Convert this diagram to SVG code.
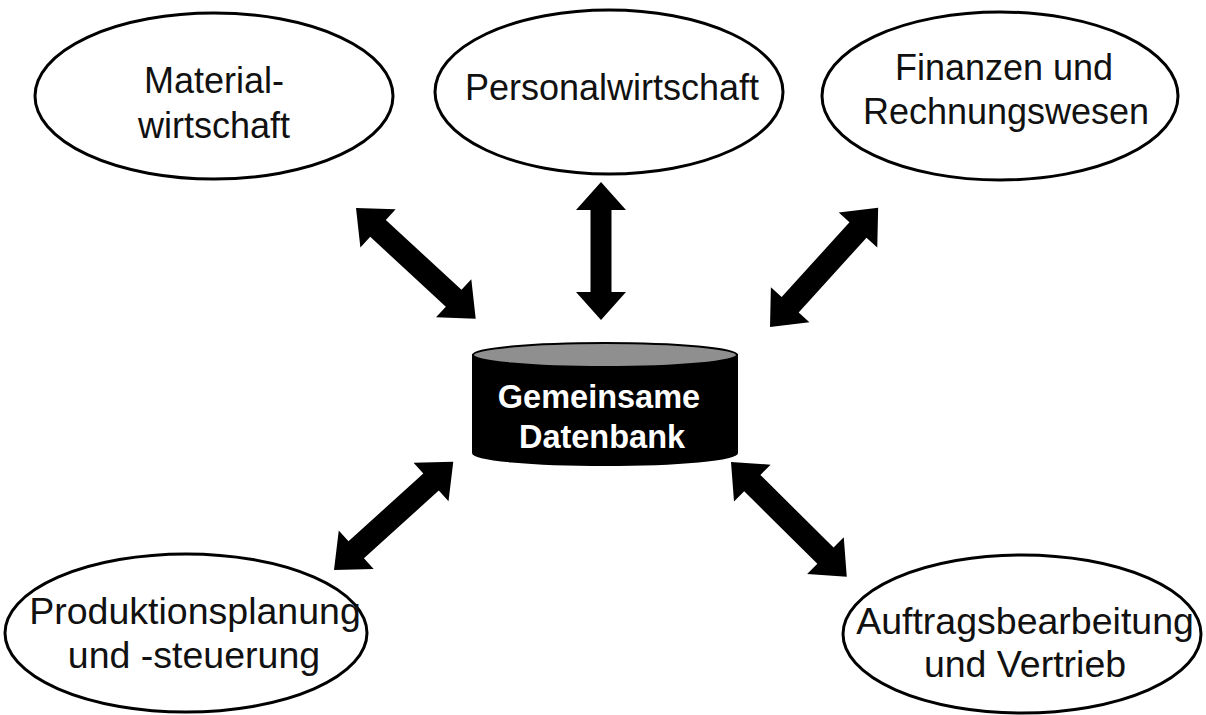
<svg xmlns="http://www.w3.org/2000/svg" width="1206" height="715" viewBox="0 0 1206 715">
<style>
.node ellipse{fill:#fff;stroke:#000;stroke-width:3}
.lbl{font-family:"Liberation Sans",Arial,sans-serif;font-size:36px;fill:#111;text-anchor:middle}
.lbl2{font-family:"Liberation Sans",Arial,sans-serif;font-size:37.5px;fill:#111;text-anchor:middle}
.db{font-family:"Liberation Sans",Arial,sans-serif;font-size:32.5px;font-weight:bold;fill:#fff;text-anchor:middle}
.arrow{fill:#000}
</style>
<rect width="1206" height="715" fill="#fff"/>
<g id="connectors">
<polygon class="arrow" transform="translate(356,208) rotate(42.75)" points="0,0 30,-26 30,-11.5 133,-11.5 133,-26 163,0 133,26 133,11.5 30,11.5 30,26"/>
<polygon class="arrow" transform="translate(601,182) rotate(90)" points="0,0 28,-25 28,-10.5 110,-10.5 110,-25 138,0 110,25 110,10.5 28,10.5 28,25"/>
<polygon class="arrow" transform="translate(770,327) rotate(-47.8)" points="0,0 30,-26 30,-11.5 131,-11.5 131,-26 161,0 131,26 131,11.5 30,11.5 30,26"/>
<polygon class="arrow" transform="translate(334,570) rotate(-42.2)" points="0,0 30,-26 30,-11.5 131,-11.5 131,-26 161,0 131,26 131,11.5 30,11.5 30,26"/>
<polygon class="arrow" transform="translate(731,462) rotate(44.75)" points="0,0 30,-26 30,-11.5 133,-11.5 133,-26 163,0 133,26 133,11.5 30,11.5 30,26"/>
</g>
<g id="material" class="node">
<ellipse cx="214" cy="96" rx="179" ry="83"/>
<text class="lbl" x="214" y="93">Material-</text>
<text class="lbl" x="214" y="138">wirtschaft</text>
</g>
<g id="personal" class="node">
<ellipse cx="609" cy="92" rx="174" ry="82"/>
<text class="lbl" x="612" y="100">Personalwirtschaft</text>
</g>
<g id="finanzen" class="node">
<ellipse cx="1000" cy="96" rx="178" ry="84"/>
<text class="lbl" x="1004" y="80">Finanzen und</text>
<text class="lbl" x="1006" y="124">Rechnungswesen</text>
</g>
<g id="produktion" class="node">
<ellipse cx="186" cy="633" rx="181" ry="79"/>
<text class="lbl2" x="195" y="624">Produktionsplanung</text>
<text class="lbl2" x="194" y="668">und -steuerung</text>
</g>
<g id="auftrag" class="node">
<ellipse cx="1022" cy="634" rx="179" ry="79"/>
<text class="lbl2" x="1025" y="634">Auftragsbearbeitung</text>
<text class="lbl2" x="1025" y="677">und Vertrieb</text>
</g>
<g id="datenbank">
<path d="M473,355 L473,453 A132,12 0 0 0 737,453 L737,355 Z" fill="#000" stroke="#000" stroke-width="2"/>
<ellipse cx="605" cy="355" rx="132" ry="12" fill="#8f8f8f" stroke="#000" stroke-width="2"/>
<text class="db" x="599" y="408">Gemeinsame</text>
<text class="db" x="602" y="448">Datenbank</text>
</g>
</svg>
